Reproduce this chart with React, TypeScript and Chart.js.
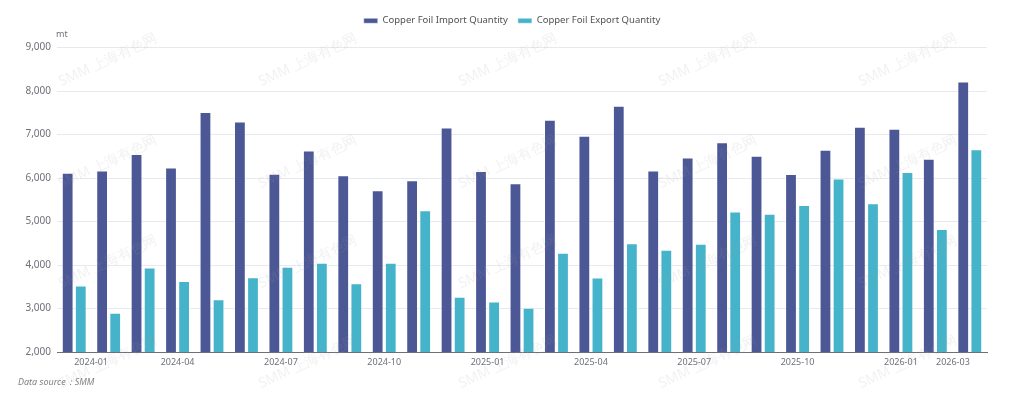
import React, { useEffect, useRef } from "react";
import { Chart, registerables } from "chart.js";

Chart.register(...registerables);

const months = [
  "2024-01", "2024-02", "2024-03", "2024-04", "2024-05", "2024-06", "2024-07", "2024-08", "2024-09",
  "2024-10", "2024-11", "2024-12", "2025-01", "2025-02", "2025-03", "2025-04", "2025-05", "2025-06",
  "2025-07", "2025-08", "2025-09", "2025-10", "2025-11", "2025-12", "2026-01", "2026-02", "2026-03",
];
const importQty = [
  6120, 6170, 6550, 6240, 7520, 7300, 6100, 6630, 6065,
  5720, 5950, 7160, 6160, 5880, 7340, 6970, 7660, 6170,
  6470, 6820, 6510, 6090, 6650, 7180, 7130, 6440, 8220,
];
const exportQty = [
  3530, 2900, 3940, 3630, 3210, 3720, 3960, 4050, 3580,
  4050, 5260, 3270, 3160, 3020, 4280, 3710, 4500, 4350,
  4490, 5230, 5180, 5380, 5990, 5420, 6140, 4830, 6660,
];
const shownTickIndexes = [0, 3, 6, 9, 12, 15, 18, 21, 24, 26];
const seriesNames = ["Copper Foil Import Quantity", "Copper Foil Export Quantity"];
const yMin = 2000;
const yMax = 9000;
const yStep = 1000;
const unitLabel = "mt";
const sourceNote = "Data source：SMM";
const watermarkText = "SMM 上海有色网";

const FONT = "'Noto Sans', 'Open Sans', sans-serif";
const IMPORT_COLOR = "#4C5796";
const EXPORT_COLOR = "#45B3C9";

const extrasPlugin = {
  id: "extras",
  beforeInit(chart: any) {
    const legend = chart.legend;
    if (legend) {
      const origFit = legend.fit.bind(legend);
      legend.fit = function () {
        origFit();
        this.height += 12;
      };
    }
  },
  afterLayout(chart: any) {
    const legend = chart.legend;
    if (legend) {
      legend.left = 0;
      legend.right = chart.width;
      legend.width = chart.width;
    }
  },
  afterDraw(chart: any) {
    const { ctx, chartArea } = chart;
    ctx.save();
    // unit label
    ctx.font = `9px ${FONT}`;
    ctx.fillStyle = "#6E7079";
    ctx.textAlign = "left";
    ctx.textBaseline = "middle";
    ctx.fillText(unitLabel, chartArea.left - 1, chartArea.top - 13);
    // source note
    ctx.font = `italic 9px ${FONT}`;
    ctx.fillStyle = "#808080";
    ctx.fillText(sourceNote, 18, 382);
    // watermarks
    ctx.font = `14px ${FONT}`;
    ctx.fillStyle = "rgba(160,160,160,0.15)";
    ctx.textAlign = "center";
    const cols = [108, 308, 508, 708, 908];
    const rows = [60, 162, 262, 362];
    for (const y of rows) {
      for (const x of cols) {
        ctx.save();
        ctx.translate(x, y);
        ctx.rotate((-25 * Math.PI) / 180);
        ctx.fillText(watermarkText, 0, 0);
        ctx.restore();
      }
    }
    ctx.restore();
  },
};

export default function App() {
  const canvasRef = useRef<HTMLCanvasElement | null>(null);

  useEffect(() => {
    if (!canvasRef.current) return;
    const chart = new Chart(canvasRef.current, {
      type: "bar",
      data: {
        labels: months,
        datasets: [
          {
            label: seriesNames[0],
            data: importQty,
            backgroundColor: IMPORT_COLOR,
            borderColor: "rgba(255,255,255,0.45)",
            borderWidth: 1,
            categoryPercentage: 0.76,
            barPercentage: 0.9,
          },
          {
            label: seriesNames[1],
            data: exportQty,
            backgroundColor: EXPORT_COLOR,
            borderColor: "rgba(255,255,255,0.45)",
            borderWidth: 1,
            categoryPercentage: 0.76,
            barPercentage: 0.9,
          },
        ],
      },
      options: {
        animation: false,
        responsive: false,
        devicePixelRatio: 1,
        layout: { padding: { left: 0, right: 37, top: 6, bottom: 0 } },
        plugins: {
          legend: {
            position: "top",
            labels: {
              boxWidth: 14,
              boxHeight: 5,
              padding: 10,
              color: "#505050",
              font: { size: 9.5, family: FONT },
            },
          },
          tooltip: { enabled: false },
        },
        scales: {
          x: {
            grid: { display: false, drawTicks: false },
            border: { display: true, color: "#6E7079", width: 1 },
            afterFit(scale: any) {
              scale.height = 47;
            },
            ticks: {
              autoSkip: false,
              maxRotation: 0,
              align: "inner",
              padding: 5,
              color: "#6E7079",
              font: { size: 9, family: FONT },
              callback: (_v: any, i: number) => (shownTickIndexes.includes(i) ? months[i] : ""),
            },
          },
          y: {
            min: yMin,
            max: yMax,
            grid: { color: "#E6E9F0", drawTicks: false },
            border: { display: false },
            afterFit(scale: any) {
              scale.width = 57;
            },
            ticks: {
              stepSize: yStep,
              padding: 6,
              color: "#6E7079",
              font: { size: 10, family: FONT },
              callback: (v: any) => Number(v).toLocaleString("en-US"),
            },
          },
        },
      },
      plugins: [extrasPlugin],
    });
    return () => chart.destroy();
  }, []);

  return (
    <div style={{ position: "fixed", left: 0, top: 0, width: 1024, height: 399, background: "#fff" }}>
      <canvas ref={canvasRef} width={1024} height={399} />
    </div>
  );
}
